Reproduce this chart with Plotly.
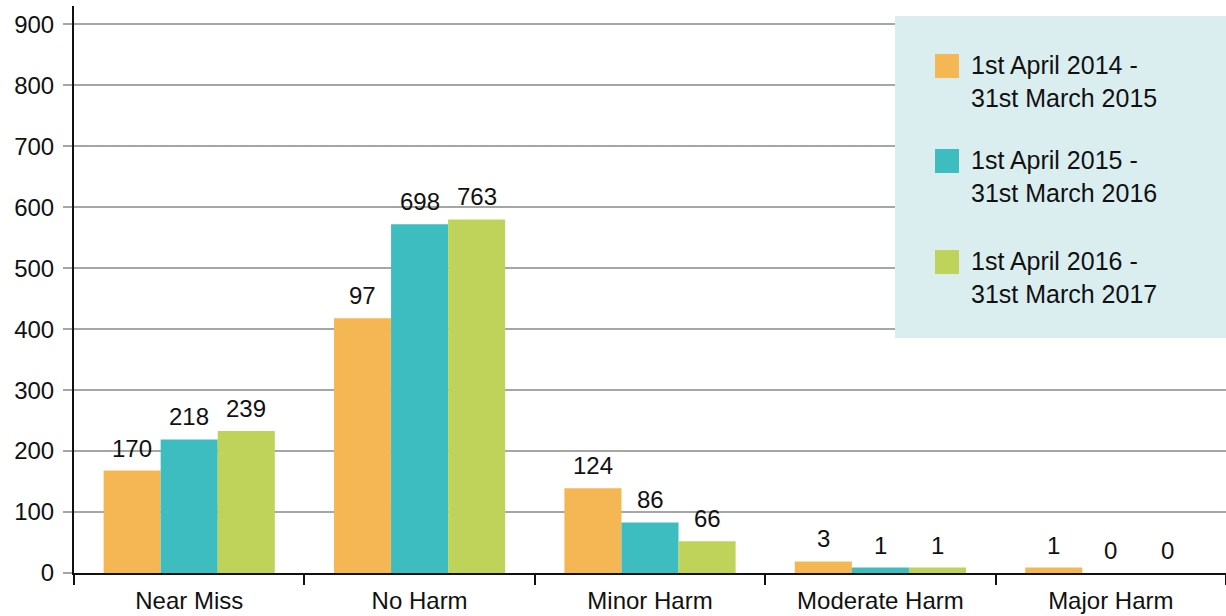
import plotly.graph_objects as go

categories = ["Near Miss", "No Harm", "Minor Harm", "Moderate Harm", "Major Harm"]
series_names = ["1st April 2014 -<br>31st March 2015",
                "1st April 2015 -<br>31st March 2016",
                "1st April 2016 -<br>31st March 2017"]
# bar heights as drawn
bars_2014 = [168, 418, 139, 19, 9]
bars_2015 = [219, 572, 83, 9, 0]
bars_2016 = [233, 580, 52, 9, 0]
# printed value labels
labels_2014 = [170, 97, 124, 3, 1]
labels_2015 = [218, 698, 86, 1, 0]
labels_2016 = [239, 763, 66, 1, 0]
y_ticks = [0, 100, 200, 300, 400, 500, 600, 700, 800, 900]

colors = ["#F5B754", "#3DBDC0", "#BFD35B"]
FONT = "Liberation Sans, Arial, Helvetica, sans-serif"

W, H = 1226, 616
ML, MR, MT, MB = 74, 0, 6, 43
PH = H - MT - MB

def px_x(x):
    return (x - ML) / (W - ML - MR)

def px_y(y):
    return (H - MB - y) / PH

fig = go.Figure()
all_bars = [bars_2014, bars_2015, bars_2016]
all_labels = [labels_2014, labels_2015, labels_2016]
for name, vals, col in zip(series_names, all_bars, colors):
    fig.add_trace(go.Bar(x=categories, y=vals, name=name, marker=dict(color=col, line=dict(width=0)),
                         showlegend=False))

annotations = []
bar_px = 57
for i, (vals, labs) in enumerate(zip(all_bars, all_labels)):
    for c, v, l in zip(categories, vals, labs):
        annotations.append(dict(x=c, y=v, xref="x", yref="y", text=str(l), showarrow=False,
                                xanchor="center", yanchor="bottom", xshift=(i - 1) * bar_px, yshift=7,
                                font=dict(family=FONT, size=24, color="#111111")))

# manual legend
shapes = [dict(type="rect", xref="paper", yref="paper", x0=px_x(895), x1=px_x(1226), y0=px_y(338), y1=px_y(16),
               fillcolor="#DAEEEF", line=dict(width=0), layer="above")]
legend_centers = [66, 161, 262]
for name, col, yc in zip(series_names, colors, legend_centers):
    shapes.append(dict(type="rect", xref="paper", yref="paper", x0=px_x(935), x1=px_x(959),
                       y0=px_y(yc + 12), y1=px_y(yc - 12), fillcolor=col, line=dict(width=0), layer="above"))
    annotations.append(dict(x=px_x(969), y=px_y(yc - 17), xref="paper", yref="paper", text=name,
                            showarrow=False, xanchor="left", yanchor="top", align="left",
                            font=dict(family=FONT, size=25, color="#111111")))

fig.update_layout(
    width=W, height=H,
    margin=dict(l=ML, r=MR, t=MT, b=MB, pad=0),
    paper_bgcolor="white", plot_bgcolor="white",
    barmode="group", bargap=0.257, bargroupgap=0,
    font=dict(family=FONT, size=24, color="#111111"),
    shapes=shapes, annotations=annotations,
    xaxis=dict(showline=True, linecolor="#111111", linewidth=2, ticks="outside", tickson="boundaries",
               ticklen=10, tickwidth=2, tickcolor="#111111", showgrid=False, ticklabelstandoff=5,
               tickfont=dict(family=FONT, size=24, color="#111111")),
    yaxis=dict(range=[0, 930], tickvals=y_ticks, showline=True, linecolor="#111111", linewidth=2,
               ticks="outside", ticklen=9, tickwidth=2, tickcolor="#A8A5A6",
               showgrid=True, gridcolor="#A8A5A6", gridwidth=2, zeroline=False,
               ticklabelstandoff=4,
               tickfont=dict(family=FONT, size=24, color="#111111")),
)

fig.write_html("out.html")
